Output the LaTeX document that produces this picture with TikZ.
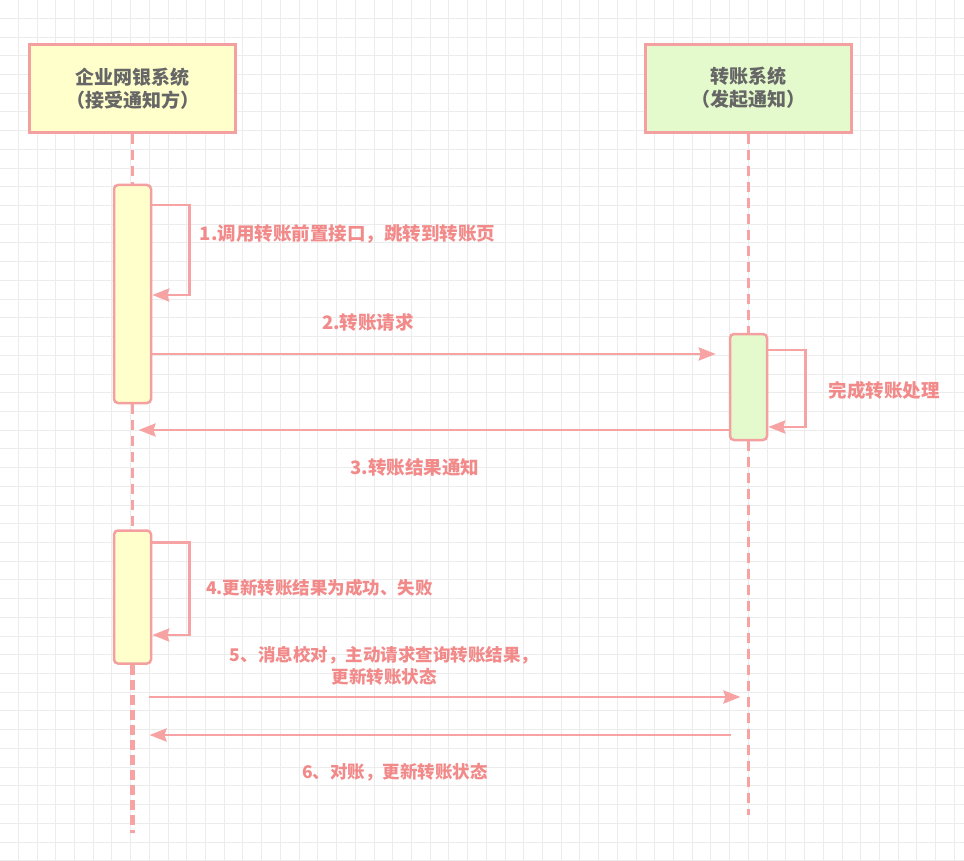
\documentclass[tikz,border=0pt]{standalone}
\usepackage{fontspec}
\setmainfont{Noto Sans CJK SC}
\usetikzlibrary{arrows.meta,calc}
\definecolor{gridc}{HTML}{ECECEC}
\definecolor{linec}{HTML}{F7A3A3}
\definecolor{boxline}{HTML}{F4A0A0}
\definecolor{txtc}{HTML}{F28A8A}
\definecolor{yel}{HTML}{FFFFCC}
\definecolor{grn}{HTML}{E4FACC}
\definecolor{boxtxt}{HTML}{666666}
\begin{document}
\begin{tikzpicture}[x=1pt,y=-1pt,
  gridline/.style={draw=gridc,line width=0.9pt},
  actor/.style={draw=boxline,line width=2.5pt,minimum width=206pt,minimum height=88pt,align=center,
    font=\fontsize{19}{23}\selectfont\bfseries,text=boxtxt,inner sep=0pt},
  act/.style={draw=boxline,line width=2.5pt,minimum width=37pt,rounded corners=4pt,inner sep=0pt},
  life/.style={draw=linec,line width=2.5pt,dash pattern=on 10pt off 6pt},
  lifethick/.style={draw=linec,line width=4.5pt,dash pattern=on 10pt off 5pt},
  msg/.style={draw=linec,line width=2.8pt,-{Stealth[length=17pt,width=13pt,inset=2pt]}},
  lbl/.style={text=txtc,font=\fontsize{18.5}{22}\selectfont\bfseries,inner sep=0pt,align=center},
  lbls/.style={lbl,font=\fontsize{17.5}{22}\selectfont\bfseries}]
\useasboundingbox (0,0) rectangle (964,861);
\fill[white] (0,0) rectangle (964,861);
\foreach \i in {0,...,51} \draw[gridline] (18.3+\i*18.72,0) -- ++(0,861);
\foreach \i in {0,...,45} \draw[gridline] (0,18.3+\i*18.72) -- ++(964,0);
% actors
\node[actor,fill=yel] (A) at (132.5,88.3) {企业网银系统\\（接受通知方）};
\node[actor,fill=grn] (B) at (748.5,88.3) {转账系统\\（发起通知）};
% activations
\node[act,fill=yel,minimum height=218pt] (a1) at (132.5,294) {};
\node[act,fill=grn,minimum height=106pt] (a2) at (748.5,387) {};
\node[act,fill=yel,minimum height=133pt] (a3) at (132.5,597) {};
\coordinate (endL) at (132.5,833);
\coordinate (endR) at (748.5,815);
% lifelines
\draw[life] (A.south) -- (a1.north);
\draw[life] (a1.south) -- (a3.north);
\draw[lifethick] (a3.south) -- (endL);
\draw[life] (B.south) -- (a2.north);
\draw[life] (a2.south) -- (endR);
% messages
\draw[msg] (a1.east |- 0,205) -- ++(37,0) |- (a1.east |- 0,295);
\draw[msg] (a1.east |- 0,354) -- ($(a2.west |- 0,354)+(-13,0)$);
\draw[msg] (a2.east |- 0,350) -- ++(37.5,0) |- (a2.east |- 0,427);
\draw[msg] (a2.west |- 0,430) -- ($(a1.south |- 0,430)+(6,0)$);
\draw[msg] (a3.east |- 0,542.5) -- ++(37,0) |- (a3.east |- 0,635);
\draw[msg] ($(a3.south |- 0,697)+(16,0)$) -- ($(endR |- 0,697)+(-8,0)$);
\draw[msg] ($(endR |- 0,735)+(-18,0)$) -- ($(a3.south |- 0,735)+(17,0)$);
% labels
\node[lbl] (l1) at (347.5,234) {1.调用转账前置接口，跳转到转账页};
\node[lbl] (l2) at (368,322) {2.转账请求};
\node[lbl] (lp) at (884,390) {完成转账处理};
\node[lbl] (l3) at (415,467.5) {3.转账结果通知};
\node[lbls] (l4) at (319.5,588) {4.更新转账结果为成功、失败};
\node[lbls] (l5) at (384,666) {5、消息校对，主动请求查询转账结果，\\更新转账状态};
\node[lbls] (l6) at (395,772) {6、对账，更新转账状态};
\end{tikzpicture}
\end{document}
